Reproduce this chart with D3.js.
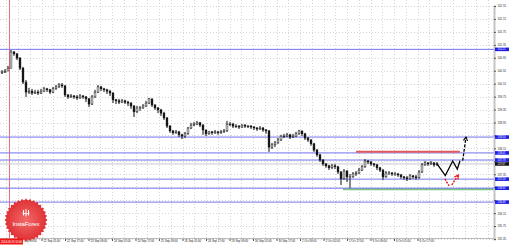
<!DOCTYPE html>
<html>
<head>
<meta charset="utf-8">
<script src="https://cdn.jsdelivr.net/npm/d3@7"></script>
<style>
body { margin: 0; background: #fff; }
svg { display: block; font-family: "Liberation Sans", Arial, sans-serif; }
</style>
</head>
<body>
<script>
var w = 510, h = 246;
var plotRight = 494, plotBottom = 238;

// 2-hour bars, open of each bar = previous close
var firstOpen = 140.48;
var closes = [140.51,140.54,140.63,141.13,141.07,140.94,140.63,140.20,139.89,139.92,
  139.86,139.89,139.86,139.92,139.99,139.96,139.89,139.99,140.05,140.11,
  140.08,139.80,139.74,139.77,139.74,139.71,139.77,139.74,139.68,139.52,
  139.74,139.89,140.05,139.99,139.96,139.92,139.86,139.65,139.62,139.58,
  139.62,139.58,139.55,139.46,139.28,139.40,139.40,139.46,139.55,139.68,
  139.49,139.40,139.34,139.24,139.09,138.84,138.69,138.63,138.66,138.57,
  138.53,138.60,138.78,138.87,138.90,138.94,138.87,138.72,138.60,138.66,
  138.63,138.66,138.63,138.66,138.69,138.90,138.90,138.84,138.84,138.81,
  138.87,138.84,138.84,138.81,138.78,138.75,138.78,138.72,138.69,138.19,
  138.26,138.32,138.41,138.53,138.53,138.57,138.50,138.53,138.60,138.69,
  138.60,138.47,138.41,138.29,138.10,137.95,137.79,137.67,137.61,137.55,
  137.61,137.58,137.42,137.21,137.45,137.27,137.27,137.36,137.39,137.48,
  137.58,137.76,137.73,137.67,137.64,137.55,137.48,137.27,137.39,137.39,
  137.36,137.36,137.33,137.27,137.24,137.21,137.30,137.27,137.24,137.42,
  137.64,137.70,137.67,137.70,137.64,137.67];
var highs = [140.57,140.60,140.70,141.19,141.16,141.10,140.97,140.67,140.26,140.02,
  139.99,139.96,139.96,139.99,140.05,140.02,139.99,140.05,140.11,140.17,
  140.17,140.11,139.83,139.83,139.80,139.80,139.83,139.80,139.77,139.71,
  139.80,139.96,140.11,140.08,140.02,139.99,139.96,139.89,139.68,139.68,
  139.68,139.65,139.62,139.58,139.49,139.46,139.46,139.52,139.62,139.71,
  139.68,139.52,139.43,139.37,139.28,139.12,138.87,138.72,138.72,138.69,
  138.60,138.66,138.81,138.94,138.97,139.00,138.97,138.90,138.72,138.69,
  138.69,138.72,138.69,138.72,138.75,139.00,138.97,138.94,138.90,138.87,
  138.90,138.90,138.87,138.87,138.84,138.81,138.84,138.81,138.75,138.72,
  138.32,138.38,138.47,138.57,138.60,138.63,138.60,138.60,138.66,138.72,
  138.69,138.63,138.50,138.44,138.32,138.13,137.98,137.82,137.70,137.64,
  137.67,137.67,137.61,137.45,137.51,137.48,137.36,137.42,137.45,137.55,
  137.64,137.82,137.79,137.76,137.70,137.67,137.58,137.51,137.45,137.45,
  137.42,137.42,137.39,137.36,137.30,137.30,137.36,137.33,137.33,137.48,
  137.70,137.76,137.73,137.76,137.73,137.73];
var lows = [140.45,140.48,140.54,140.63,141.01,140.88,140.57,140.14,139.74,139.83,
  139.80,139.83,139.80,139.83,139.89,139.89,139.83,139.86,139.96,140.02,
  140.02,139.74,139.68,139.71,139.68,139.65,139.68,139.68,139.58,139.43,
  139.49,139.71,139.86,139.92,139.89,139.83,139.77,139.55,139.52,139.52,
  139.55,139.52,139.46,139.37,139.12,139.24,139.31,139.37,139.43,139.52,
  139.43,139.34,139.24,139.15,139.03,138.78,138.63,138.57,138.60,138.50,
  138.44,138.47,138.57,138.75,138.84,138.87,138.81,138.57,138.53,138.57,
  138.57,138.60,138.57,138.60,138.63,138.66,138.84,138.78,138.78,138.75,
  138.78,138.78,138.78,138.75,138.72,138.69,138.72,138.66,138.60,138.04,
  138.13,138.19,138.29,138.38,138.47,138.50,138.44,138.47,138.50,138.57,
  138.53,138.41,138.35,138.23,138.04,137.89,137.73,137.61,137.55,137.48,
  137.51,137.51,137.36,137.02,137.18,137.11,136.93,137.24,137.30,137.36,
  137.45,137.55,137.67,137.61,137.58,137.48,137.42,137.18,137.24,137.33,
  137.30,137.30,137.27,137.21,137.18,137.14,137.18,137.21,137.18,137.21,
  137.39,137.61,137.61,137.64,137.58,137.61];

var priceTicks = [135.35,135.75,136.15,136.55,136.95,137.35,137.75,138.15,138.55,
  138.95,139.35,139.75,140.15,140.55,140.95,141.35,141.75,142.15,142.55];
var timeLabels = ["19 Sep 09:00","22 Sep 01:00","22 Sep 17:00","23 Sep 09:00","24 Sep 01:00",
  "24 Sep 17:00","25 Sep 09:00","26 Sep 01:00","26 Sep 17:00","29 Sep 09:00","30 Sep 01:00",
  "30 Sep 17:00","1 Oct 09:00","2 Oct 01:00","2 Oct 17:00","3 Oct 09:00","6 Oct 01:00","6 Oct 17:00"];
var cursorLabel = "2014.09.19 10:00";
var cursorBar = 2.67;

// horizontal levels
var blueLevels = [141.21, 138.50, 138.01, 137.79, 137.20, 136.92, 136.49];
var currentPrice = 137.67;
var resistanceBars = [118.2, 152.8], resistancePrice = 138.05;
var supportBars = [113.8, 164.2], supportPrice = 136.90;

// forecast drawing
var zigzagBars = [145.07, 147.93, 150.4, 151.93, 152.83];
var zigzagPrices = [137.69, 137.31, 137.76, 137.51, 137.77];
var breakoutBars = [153.73, 154.83];
var breakoutPrices = [137.77, 138.50];
var redDownBars = [147.83, 149.17];
var redDownPrices = [137.21, 136.99];
var redUpBars = [150.07, 152.27];
var redUpPrices = [137.02, 137.33];

var x = d3.scaleLinear().domain([0, 145]).range([1.5, 436.5]);
var y = d3.scaleLinear().domain([135.35, 142.55]).range([239, 6]);
var tx = d3.scaleLinear().domain([0, 17]).range([18, 417.5]);

var svg = d3.select("body").append("svg")
    .attr("width", w)
    .attr("height", h);

var defs = svg.append("defs");
function arrowMarker(id, color) {
    defs.append("marker")
        .attr("id", id)
        .attr("viewBox", "0 0 10 10")
        .attr("refX", 8).attr("refY", 5)
        .attr("markerWidth", 4).attr("markerHeight", 4)
        .attr("orient", "auto")
        .append("path")
        .attr("d", "M1,1 L8,5 L1,9")
        .attr("fill", "none")
        .attr("stroke", color)
        .attr("stroke-width", 2);
}
arrowMarker("arrowBlack", "#000");
arrowMarker("arrowRed", "#f01010");

var grad = defs.append("radialGradient").attr("id", "badgeGrad");
grad.append("stop").attr("offset", "0%").attr("stop-color", "#f46a6a");
grad.append("stop").attr("offset", "100%").attr("stop-color", "#de2f33");

// grid
var grid = svg.append("g").attr("stroke", "#d6d6d6").attr("stroke-dasharray", "1,2");
grid.selectAll("line.v")
    .data(d3.range(-1, 41))
    .join("line")
    .attr("class", "v")
    .attr("x1", function(d) { return Math.round(tx(d / 2)) + 0.5; })
    .attr("x2", function(d) { return Math.round(tx(d / 2)) + 0.5; })
    .attr("y1", 0)
    .attr("y2", plotBottom);
grid.selectAll("line.h")
    .data(priceTicks)
    .join("line")
    .attr("class", "h")
    .attr("x1", 0)
    .attr("x2", plotRight)
    .attr("y1", function(d) { return Math.round(y(d)) + 0.5; })
    .attr("y2", function(d) { return Math.round(y(d)) + 0.5; });

// cursor vertical line
svg.append("line")
    .attr("x1", x(cursorBar)).attr("x2", x(cursorBar))
    .attr("y1", 0).attr("y2", plotBottom)
    .attr("stroke", "#f07070")
    .attr("stroke-width", 1);

// current price line
svg.append("line")
    .attr("x1", 0).attr("x2", plotRight)
    .attr("y1", y(currentPrice)).attr("y2", y(currentPrice))
    .attr("stroke", "#c8c8c8");

// support (green) under the blue lines
svg.append("line")
    .attr("x1", x(supportBars[0])).attr("x2", x(supportBars[1]))
    .attr("y1", y(supportPrice) + 0.5).attr("y2", y(supportPrice) + 0.5)
    .attr("stroke", "#7cc87c")
    .attr("stroke-width", 2);

// blue levels
svg.selectAll("line.level")
    .data(blueLevels)
    .join("line")
    .attr("class", "level")
    .attr("x1", 0)
    .attr("x2", plotRight)
    .attr("y1", function(d) { return y(d); })
    .attr("y2", function(d) { return y(d); })
    .attr("stroke", "#7474ee")
    .attr("stroke-width", 1);

// resistance (red)
svg.append("line")
    .attr("x1", x(resistanceBars[0])).attr("x2", x(resistanceBars[1]))
    .attr("y1", y(resistancePrice)).attr("y2", y(resistancePrice))
    .attr("stroke", "#e25a5a")
    .attr("stroke-width", 2);

// candles
var bars = svg.append("g");
closes.forEach(function(c, i) {
    var o = i === 0 ? firstOpen : closes[i - 1];
    var hi = Math.max(highs[i], o, c), lo = Math.min(lows[i], o, c);
    bars.append("line")
        .attr("x1", x(i) + 0.5).attr("x2", x(i) + 0.5)
        .attr("y1", y(hi)).attr("y2", y(lo))
        .attr("stroke", "#111")
        .attr("stroke-width", 1);
    var top = y(Math.max(o, c)), bot = y(Math.min(o, c));
    bars.append("rect")
        .attr("x", x(i) - 0.4)
        .attr("y", top)
        .attr("width", 1.8)
        .attr("height", Math.max(0.7, bot - top))
        .attr("fill", c >= o ? "#fff" : "#111")
        .attr("stroke", "#111")
        .attr("stroke-width", 0.5);
});

// forecast lines
var line = d3.line()
    .x(function(d) { return x(d[0]); })
    .y(function(d) { return y(d[1]); });
svg.append("path")
    .attr("d", line(d3.zip(zigzagBars, zigzagPrices)))
    .attr("fill", "none")
    .attr("stroke", "#000")
    .attr("stroke-width", 1.3);
svg.append("path")
    .attr("d", line(d3.zip(breakoutBars, breakoutPrices)))
    .attr("fill", "none")
    .attr("stroke", "#000")
    .attr("stroke-width", 1.3)
    .attr("stroke-dasharray", "3,1.5")
    .attr("marker-end", "url(#arrowBlack)");
svg.append("path")
    .attr("d", line(d3.zip(redDownBars, redDownPrices)))
    .attr("fill", "none")
    .attr("stroke", "#f01010")
    .attr("stroke-width", 1.4)
    .attr("stroke-dasharray", "2,1.2");
svg.append("path")
    .attr("d", line(d3.zip(redUpBars, redUpPrices)))
    .attr("fill", "none")
    .attr("stroke", "#f01010")
    .attr("stroke-width", 1.4)
    .attr("stroke-dasharray", "2,1.2")
    .attr("marker-end", "url(#arrowRed)");

// level labels on the axis (they cover the scale labels beneath)
var levelTags = blueLevels.map(function(d) { return [d, "#1f1fe8"]; })
    .concat([[currentPrice, "#111"]]);
function coveredByTag(p) {
    return levelTags.some(function(t) { return Math.abs(y(t[0]) - y(p)) < 3.6; });
}

// price axis
var yAxis = d3.axisRight(y)
    .tickValues(priceTicks)
    .tickSize(2)
    .tickPadding(1.5)
    .tickFormat(d3.format(".2f"));
var yg = svg.append("g")
    .attr("transform", "translate(" + plotRight + ",0)")
    .call(yAxis);
yg.select(".domain").attr("stroke", "#c4c4c4").attr("stroke-width", 2);
yg.selectAll(".tick line").attr("stroke", "#555");
yg.selectAll(".tick text")
    .attr("font-size", 2.8)
    .attr("fill", "#222")
    .attr("display", function(d) { return coveredByTag(d) ? "none" : null; });

var tags = svg.selectAll("g.tag")
    .data(levelTags)
    .join("g")
    .attr("class", "tag")
    .attr("transform", function(d) { return "translate(495," + y(d[0]) + ")"; });
tags.append("rect")
    .attr("x", 0).attr("y", -1.8)
    .attr("width", 14).attr("height", 3.6)
    .attr("fill", function(d) { return d[1]; });
tags.append("text")
    .attr("x", 2.5).attr("y", 0.9)
    .attr("font-size", 2.6)
    .attr("fill", "#fff")
    .text(function(d) { return d[0].toFixed(2); });

// time axis
var xAxis = d3.axisBottom(tx)
    .tickValues(d3.range(timeLabels.length))
    .tickSize(3)
    .tickPadding(1)
    .tickFormat(function(d) { return timeLabels[d]; });
var xg = svg.append("g")
    .attr("transform", "translate(0," + plotBottom + ")")
    .call(xAxis);
xg.select(".domain").remove();
xg.selectAll(".tick line").attr("stroke", "#555");
xg.selectAll(".tick text")
    .attr("text-anchor", "start")
    .attr("x", 1.5)
    .attr("y", 2.5)
    .attr("font-size", 2.8)
    .attr("fill", "#222");
svg.append("line")
    .attr("x1", 0).attr("x2", plotRight)
    .attr("y1", plotBottom + 0.5).attr("y2", plotBottom + 0.5)
    .attr("stroke", "#bbb");

// InstaForex badge
var badge = svg.append("g").attr("transform", "translate(26,220)");
var teeth = 32;
var radial = d3.lineRadial().curve(d3.curveLinearClosed);
badge.append("path")
    .attr("d", radial(d3.range(teeth * 2).map(function(k) {
        return [k * Math.PI / teeth, k % 2 ? 19.5 : 21.5];
    })))
    .attr("fill", "url(#badgeGrad)");
badge.append("path")
    .attr("d", "M-2.5,-10 L-2.5,-4.5 M0,-11 L0,-3.5 M2.5,-10 L2.5,-4.5 M-3.5,-7 Q0,-5 3.5,-7")
    .attr("fill", "none")
    .attr("stroke", "#fff")
    .attr("stroke-width", 1);
badge.append("text")
    .attr("x", 0).attr("y", 6)
    .attr("text-anchor", "middle")
    .attr("font-size", 6)
    .attr("textLength", 27)
    .attr("fill", "#fff")
    .text("InstaForex");

// cursor time label (covers the first time label, as in the terminal)
svg.append("rect")
    .attr("x", 0).attr("y", plotBottom + 0.5)
    .attr("width", 23).attr("height", 6)
    .attr("fill", "#f01616");
svg.append("text")
    .attr("x", 1).attr("y", plotBottom + 4.6)
    .attr("font-size", 2.8)
    .attr("textLength", 21)
    .attr("fill", "#fff")
    .text(cursorLabel);
</script>
</body>
</html>
